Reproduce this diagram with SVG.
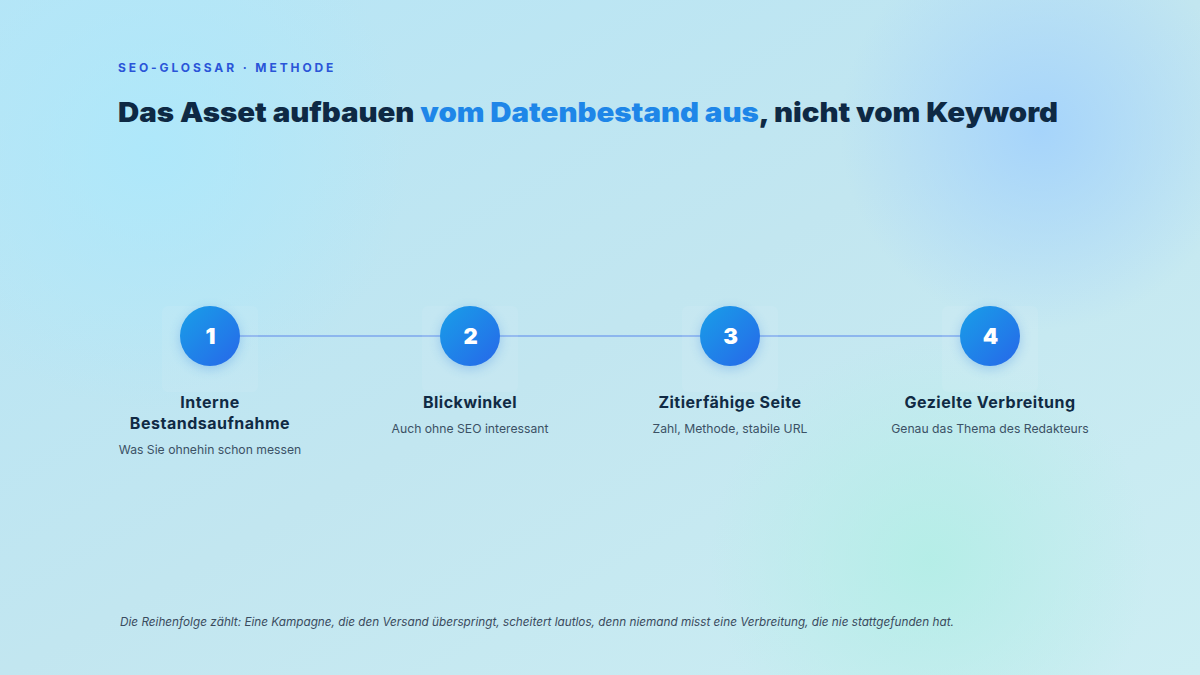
<svg xmlns="http://www.w3.org/2000/svg" width="1200" height="675" viewBox="0 0 1200 675">
<defs>
<linearGradient id="bg" x1="0" y1="0" x2="1" y2="1">
<stop offset="0" stop-color="#b6e5f6"/>
<stop offset="0.5" stop-color="#c2e6f0"/>
<stop offset="1" stop-color="#cdeef3"/>
</linearGradient>
<radialGradient id="blobTR" cx="1040" cy="130" r="200" gradientUnits="userSpaceOnUse">
<stop offset="0" stop-color="#a6d4fb" stop-opacity="1"/>
<stop offset="1" stop-color="#a6d4fb" stop-opacity="0"/>
</radialGradient>
<radialGradient id="blobTL" cx="150" cy="150" r="260" gradientUnits="userSpaceOnUse">
<stop offset="0" stop-color="#ade8fb" stop-opacity="0.9"/>
<stop offset="1" stop-color="#ade8fb" stop-opacity="0"/>
</radialGradient>
<radialGradient id="blobBR" cx="930" cy="560" r="220" gradientUnits="userSpaceOnUse">
<stop offset="0" stop-color="#b3eee6" stop-opacity="0.9"/>
<stop offset="1" stop-color="#b3eee6" stop-opacity="0"/>
</radialGradient>
<linearGradient id="dot" x1="0" y1="0" x2="1" y2="1">
<stop offset="0" stop-color="#189fe8"/>
<stop offset="1" stop-color="#2767e9"/>
</linearGradient>
<filter id="glow" x="-60%" y="-60%" width="220%" height="220%">
<feGaussianBlur stdDeviation="6"/>
</filter>
<style>
.t{font-family:"Inter","Liberation Sans",sans-serif;}
.step{font-family:"Inter","Liberation Sans",sans-serif;font-weight:700;font-size:16px;letter-spacing:0.5px;fill:#102a44;text-anchor:middle;}
.sub{font-family:"Inter","Liberation Sans",sans-serif;font-size:12.2px;fill:#3b5165;text-anchor:middle;}
.num{font-family:"Inter","Liberation Sans",sans-serif;font-weight:900;font-size:22px;letter-spacing:1px;fill:#ffffff;text-anchor:middle;}
.card{fill:#ffffff;fill-opacity:0.07;}
.halo{fill:#2a7fe0;opacity:0.3;}
</style>
</defs>
<rect width="1200" height="675" fill="url(#bg)"/>
<rect width="1200" height="675" fill="url(#blobTL)"/>
<rect width="1200" height="675" fill="url(#blobTR)"/>
<rect width="1200" height="675" fill="url(#blobBR)"/>

<text class="t" x="118" y="72" font-size="12" font-weight="700" letter-spacing="2.9" fill="#2a55d8">SEO-GLOSSAR · METHODE</text>
<text class="t" x="118" y="122" font-size="27" font-weight="900" fill="#0e2944" textLength="940" lengthAdjust="spacingAndGlyphs">Das Asset aufbauen <tspan fill="#1e86e8">vom Datenbestand aus</tspan>, nicht vom Keyword</text>

<g id="connectors">
<line x1="210" y1="336" x2="990" y2="336" stroke="#8db6ee" stroke-width="2"/>
</g>

<g id="step1">
<rect class="card" x="162" y="306" width="96" height="86" rx="6"/>
<circle class="halo" cx="210" cy="339" r="30" filter="url(#glow)"/>
<circle cx="210" cy="336" r="30" fill="url(#dot)"/>
<text class="num" x="211" y="344">1</text>
<text class="step" x="210" y="408">Interne</text>
<text class="step" x="210" y="429">Bestandsaufnahme</text>
<text class="sub" x="210" y="454">Was Sie ohnehin schon messen</text>
</g>
<g id="step2">
<rect class="card" x="422" y="306" width="96" height="86" rx="6"/>
<circle class="halo" cx="470" cy="339" r="30" filter="url(#glow)"/>
<circle cx="470" cy="336" r="30" fill="url(#dot)"/>
<text class="num" x="471" y="344">2</text>
<text class="step" x="470" y="408">Blickwinkel</text>
<text class="sub" x="470" y="433">Auch ohne SEO interessant</text>
</g>
<g id="step3">
<rect class="card" x="682" y="306" width="96" height="86" rx="6"/>
<circle class="halo" cx="730" cy="339" r="30" filter="url(#glow)"/>
<circle cx="730" cy="336" r="30" fill="url(#dot)"/>
<text class="num" x="731" y="344">3</text>
<text class="step" x="730" y="408">Zitierfähige Seite</text>
<text class="sub" x="730" y="433">Zahl, Methode, stabile URL</text>
</g>
<g id="step4">
<rect class="card" x="942" y="306" width="96" height="86" rx="6"/>
<circle class="halo" cx="990" cy="339" r="30" filter="url(#glow)"/>
<circle cx="990" cy="336" r="30" fill="url(#dot)"/>
<text class="num" x="991" y="344">4</text>
<text class="step" x="990" y="408">Gezielte Verbreitung</text>
<text class="sub" x="990" y="433">Genau das Thema des Redakteurs</text>
</g>

<text class="t" x="120" y="626" font-size="11.5" font-style="italic" fill="#3a4b5e" textLength="834" lengthAdjust="spacingAndGlyphs">Die Reihenfolge zählt: Eine Kampagne, die den Versand überspringt, scheitert lautlos, denn niemand misst eine Verbreitung, die nie stattgefunden hat.</text>
</svg>
